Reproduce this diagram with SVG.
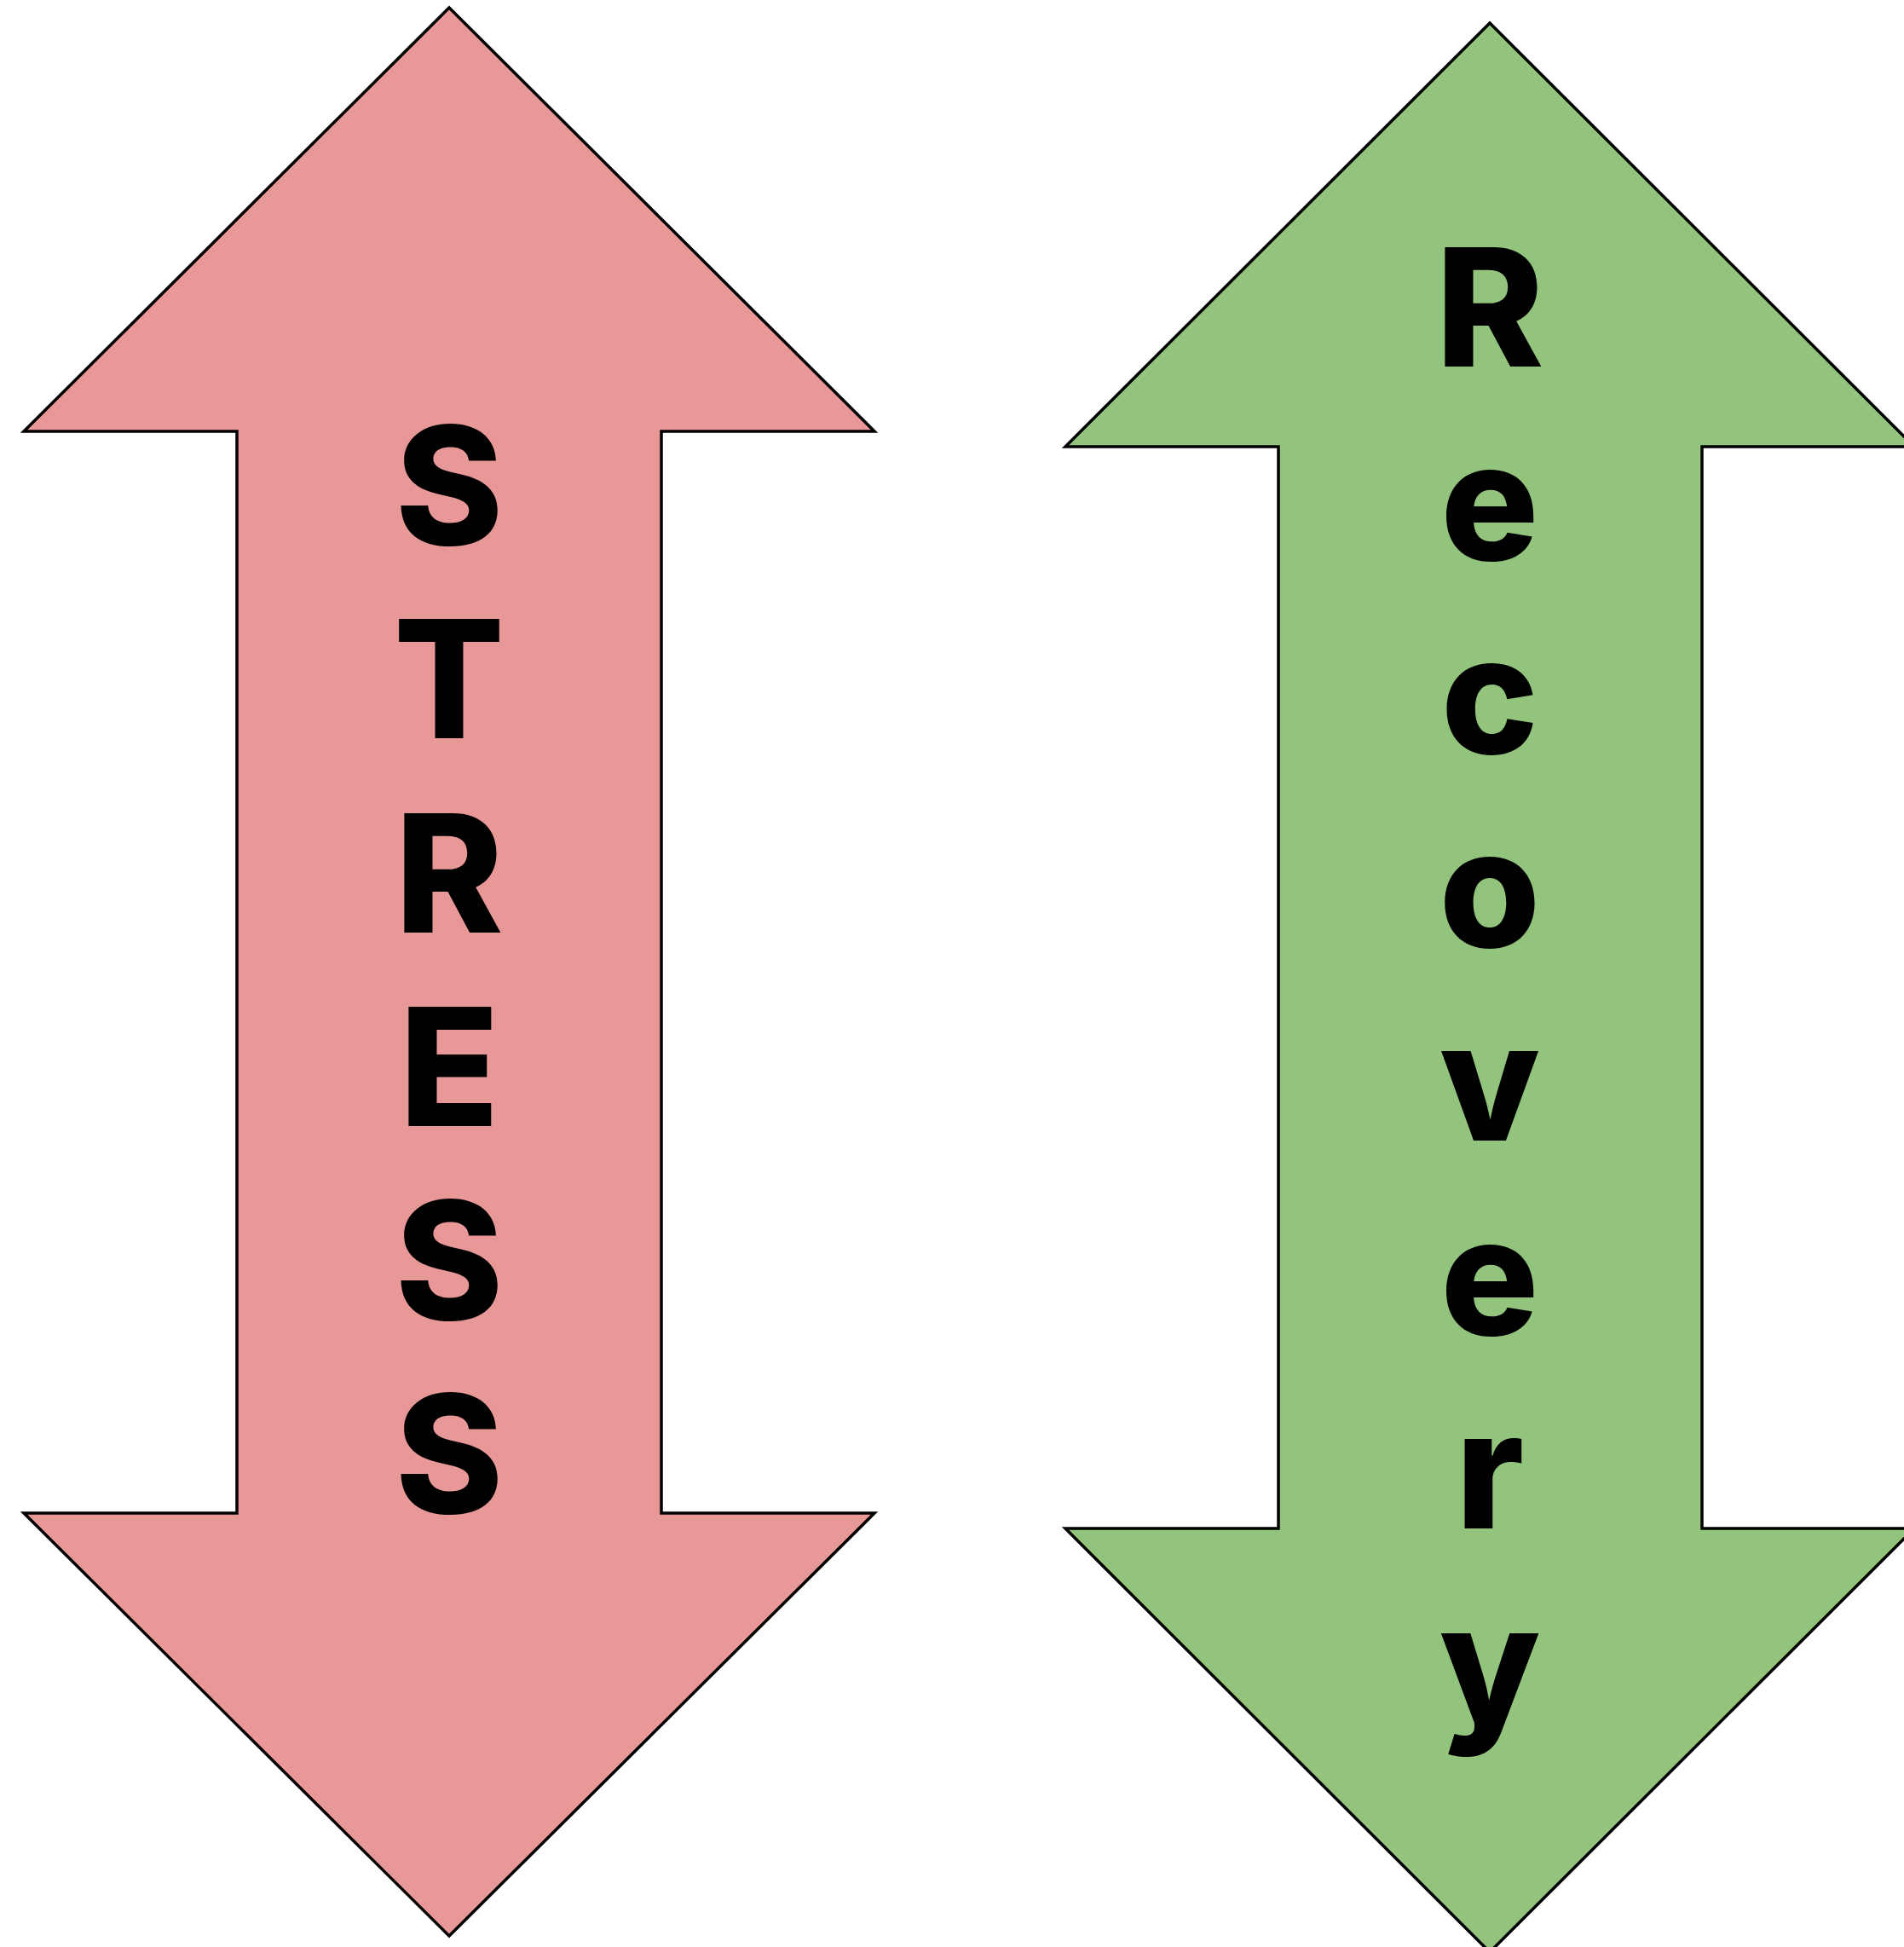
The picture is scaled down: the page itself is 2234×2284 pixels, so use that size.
<svg xmlns="http://www.w3.org/2000/svg" width="2234" height="2284" viewBox="0 0 2234 2284">
<style>
.arrow{stroke:#000;stroke-width:3.5;stroke-linejoin:miter}
.stress{fill:#E99898}
.recovery{fill:#93C47D}
.lbl{font-family:Inter,"Noto Sans","DejaVu Sans",sans-serif;font-weight:800;font-size:192px;fill:#000;text-anchor:middle}
</style>
<rect width="2234" height="2284" fill="#fff"/>
<g id="stress-arrow">
<polygon class="arrow stress" points="527,9 1026,506 776,506 776,1775 1026,1775 527,2271 28,1775 278,1775 278,506 28,506"/>
<text class="lbl" x="527" y="639">S</text>
<text class="lbl" x="527" y="866">T</text>
<text class="lbl" x="527" y="1094">R</text>
<text class="lbl" x="527" y="1321">E</text>
<text class="lbl" x="527" y="1548">S</text>
<text class="lbl" x="527" y="1775">S</text>
</g>
<g id="recovery-arrow">
<polygon class="arrow recovery" points="1748,27 2246,524 1997,524 1997,1793 2246,1793 1748,2290 1250,1793 1500,1793 1500,524 1250,524"/>
<text class="lbl" x="1748" y="430">R</text>
<text class="lbl" x="1748" y="657">e</text>
<text class="lbl" x="1748" y="884">c</text>
<text class="lbl" x="1748" y="1111">o</text>
<text class="lbl" x="1748" y="1338">v</text>
<text class="lbl" x="1748" y="1566">e</text>
<text class="lbl" x="1748" y="1793">r</text>
<text class="lbl" x="1748" y="2021">y</text>
</g>
<g id="connectors"></g>
</svg>
